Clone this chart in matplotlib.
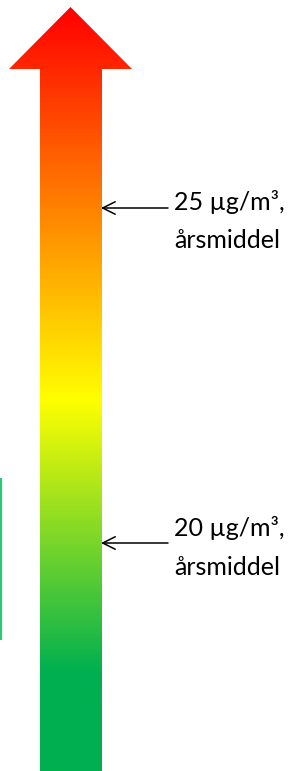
import matplotlib
matplotlib.use("Agg")
import matplotlib.pyplot as plt
import numpy as np
from matplotlib.colors import LinearSegmentedColormap
from matplotlib.patches import Polygon

# ---- data ----
limit_values = [25, 20]                      # µg/m³ annual mean thresholds
limit_labels = ["25 µg/m³,", "20 µg/m³,"]
limit_sublabels = ["årsmiddel", "årsmiddel"]
gradient_colors = ["#FF0000", "#FFFF00", "#00B050", "#00B050"]
gradient_stops_px = [7, 400, 673, 771]       # vertical positions of colour stops

W, H = 294, 771
fig = plt.figure(figsize=(W / 100, H / 100), dpi=100)

# background axes in pixel coordinates for the arrow shape
bg = fig.add_axes([0, 0, 1, 1])
bg.set_xlim(0, W)
bg.set_ylim(H, 0)
bg.axis("off")

pos = [(p - gradient_stops_px[0]) / (gradient_stops_px[-1] - gradient_stops_px[0]) for p in gradient_stops_px]
cmap = LinearSegmentedColormap.from_list("aq", list(zip(pos, gradient_colors)))
grad = np.linspace(0, 1, 800).reshape(-1, 1)
im = bg.imshow(grad, cmap=cmap, aspect="auto",
               extent=[9, 132, gradient_stops_px[-1], gradient_stops_px[0]],
               interpolation="bilinear", zorder=1)
arrow_poly = Polygon([(70.5, 7), (132, 69), (102, 69), (102, 771), (40, 771), (40, 69), (9, 69)],
                     closed=True, facecolor="none", edgecolor="none", transform=bg.transData)
bg.add_patch(arrow_poly)
im.set_clip_path(arrow_poly)

# thin green line on the left edge
bg.plot([1, 1], [478, 640], color="#2DC878", lw=1.6, solid_capstyle="butt", zorder=2)

# data axes: y in µg/m³
ax = fig.add_axes([0, 0, 1, 1], facecolor="none")
px_per_unit = (543 - 208) / 5.0
y_top = 25 + 208 / px_per_unit
y_bot = 25 - (H - 208) / px_per_unit
ax.set_ylim(y_bot, y_top)
ax.set_xlim(0, W)
ax.axis("off")

font = ["Lato", "DejaVu Sans"]
baseline_offsets = [(2, 40), (-7, 32)]   # px below the arrow for line 1 / line 2 baselines
for v, lab, sub, (o1, o2) in zip(limit_values, limit_labels, limit_sublabels, baseline_offsets):
    ax.annotate("", xy=(101, v), xytext=(168, v),
                arrowprops=dict(arrowstyle="->,head_length=0.9,head_width=0.45",
                                color="black", lw=1.1, shrinkA=0, shrinkB=0))
    ax.text(174, v - o1 / px_per_unit, lab, fontsize=18, family=font, color="black",
            va="baseline", ha="left")
    ax.text(174, v - o2 / px_per_unit, sub, fontsize=18, family=font, color="black",
            va="baseline", ha="left")

fig.savefig("out.png", dpi=100)
